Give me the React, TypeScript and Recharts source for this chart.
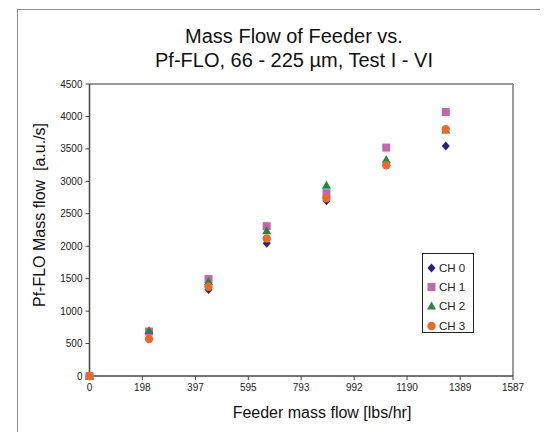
import React from 'react';
import { ScatterChart, Scatter, XAxis, YAxis, ReferenceLine } from 'recharts';

const feederFlow = [0, 223, 446, 664, 888, 1112, 1335];
const ch0 = [0, 680, 1334, 2047, 2699, 3250, 3545];
const ch1 = [0, 685, 1493, 2309, 2817, 3520, 4069];
const ch2 = [0, 700, 1457, 2237, 2940, 3335, 3792];
const ch3 = [0, 570, 1375, 2119, 2740, 3248, 3802];

const xTicks = [0, 198, 397, 595, 793, 992, 1190, 1389, 1587];
const yTicks = [0, 500, 1000, 1500, 2000, 2500, 3000, 3500, 4000, 4500];

const seriesNames = ['CH 0', 'CH 1', 'CH 2', 'CH 3'];
const seriesColors = ['#2b1f7e', '#c168ad', '#23883a', '#ea6a2c'];
const seriesShapes = ['diamond', 'square', 'triangle', 'circle'];

const toPoints = (ys: number[]) => feederFlow.map((x, i) => ({ x, y: ys[i] }));
const allSeries = [ch0, ch1, ch2, ch3].map(toPoints);

const FONT = '"Liberation Sans", Arial, sans-serif';

const Marker = ({ kind, cx, cy, fill }: { kind: string; cx: number; cy: number; fill: string }) => {
    if (kind === 'diamond') {
        return <polygon points={`${cx},${cy - 4.5} ${cx + 4},${cy} ${cx},${cy + 4.5} ${cx - 4},${cy}`} fill={fill} />;
    }
    if (kind === 'square') {
        return <rect x={cx - 4} y={cy - 4} width={8} height={8} fill={fill} />;
    }
    if (kind === 'triangle') {
        return <polygon points={`${cx},${cy - 4.5} ${cx + 4.5},${cy + 3.5} ${cx - 4.5},${cy + 3.5}`} fill={fill} />;
    }
    return <circle cx={cx} cy={cy} r={4.2} fill={fill} />;
};

const LegendBox = () => (
    <div
        style={{
            position: 'absolute',
            left: 414,
            top: 245,
            width: 52,
            height: 80,
            border: '1.5px solid #222',
            background: '#fff',
            fontFamily: FONT,
            fontSize: 11.5,
            color: '#222',
            boxSizing: 'border-box',
            paddingTop: 4,
        }}
    >
        {seriesNames.map((name, i) => (
            <div key={name} style={{ display: 'flex', alignItems: 'center', height: 19.3 }}>
                <svg width={13} height={12} style={{ marginLeft: 2 }}>
                    <Marker kind={seriesShapes[i]} cx={6.5} cy={6} fill={seriesColors[i]} />
                </svg>
                <span style={{ marginLeft: 1 }}>{name}</span>
            </div>
        ))}
    </div>
);

const App = () => {
    return (
        <div style={{ position: 'relative', width: 540, height: 424, overflow: 'hidden', background: '#fff' }}>
            <div
                style={{
                    position: 'absolute',
                    left: 9,
                    top: 1,
                    width: 600,
                    height: 500,
                    border: '1.5px solid #8c8c8c',
                }}
            />
            <div
                style={{
                    position: 'absolute',
                    left: 0,
                    top: 16,
                    width: 572,
                    textAlign: 'center',
                    fontFamily: FONT,
                    fontSize: 20,
                    lineHeight: '24px',
                    color: '#111',
                }}
            >
                Mass Flow of Feeder vs.
                <br />
                Pf-FLO, 66 - 225 µm, Test I - VI
            </div>
            <div style={{ position: 'absolute', left: 0, top: 0 }}>
                <ScatterChart
                    width={540}
                    height={424}
                    margin={{ top: 76, right: 35, bottom: 26, left: 0 }}
                >
                    <XAxis
                        type="number"
                        dataKey="x"
                        domain={[0, 1587]}
                        ticks={xTicks}
                        interval={0}
                        height={30}
                        tickSize={4}
                        tickMargin={4}
                        axisLine={{ stroke: '#444', strokeWidth: 1.5 }}
                        tickLine={{ stroke: '#444' }}
                        tick={{ fontSize: 10, fill: '#222', fontFamily: FONT }}
                        label={{
                            content: (props: any) => {
                                const vb = props.viewBox;
                                return (
                                    <text
                                        x={314}
                                        y={vb.y + 42}
                                        textAnchor="middle"
                                        fontSize={16}
                                        fontFamily={FONT}
                                        fill="#111"
                                    >
                                        Feeder mass flow [lbs/hr]
                                    </text>
                                );
                            },
                        }}
                    />
                    <YAxis
                        type="number"
                        dataKey="y"
                        domain={[0, 4500]}
                        ticks={yTicks}
                        interval={0}
                        width={81.5}
                        tickSize={4}
                        tickMargin={3}
                        axisLine={{ stroke: '#444', strokeWidth: 1.5 }}
                        tickLine={{ stroke: '#444' }}
                        tick={{ fontSize: 10, fill: '#222', fontFamily: FONT }}
                        label={{
                            content: (props: any) => {
                                const vb = props.viewBox;
                                const cx = 37;
                                const cy = vb.y + vb.height / 2 - 15;
                                return (
                                    <text
                                        x={cx}
                                        y={cy}
                                        transform={`rotate(-90 ${cx} ${cy})`}
                                        textAnchor="middle"
                                        fontSize={16}
                                        fontFamily={FONT}
                                        fill="#111"
                                    >
                                        {'Pf-FLO Mass flow\u00a0 [a.u./s]'}
                                    </text>
                                );
                            },
                        }}
                    />
                    <ReferenceLine y={4500} stroke="#9a9a9a" strokeWidth={2} />
                    <ReferenceLine x={1587} stroke="#9a9a9a" strokeWidth={2} />
                    {allSeries.map((pts, i) => (
                        <Scatter
                            key={seriesNames[i]}
                            name={seriesNames[i]}
                            data={pts}
                            fill={seriesColors[i]}
                            isAnimationActive={false}
                            shape={(p: any) => (
                                <Marker kind={seriesShapes[i]} cx={p.cx} cy={p.cy} fill={seriesColors[i]} />
                            )}
                        />
                    ))}
                </ScatterChart>
            </div>
            <LegendBox />
        </div>
    );
};

export default App;
